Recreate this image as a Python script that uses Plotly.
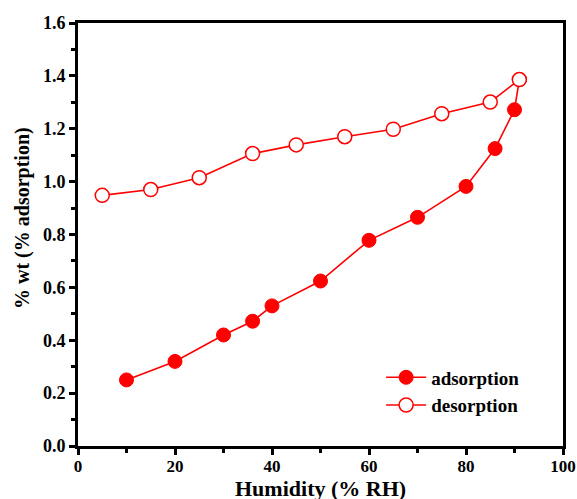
import plotly.graph_objects as go

# Water uptake isotherm: adsorption and desorption branches
ads_rh = [10, 20, 30, 36, 40, 50, 60, 70, 80, 86, 90, 91]
ads_wt = [0.25, 0.32, 0.42, 0.472, 0.53, 0.624, 0.778, 0.865, 0.982, 1.125, 1.272, 1.386]

des_rh = [5, 15, 25, 36, 45, 55, 65, 75, 85, 91]
des_wt = [0.948, 0.970, 1.015, 1.106, 1.139, 1.170, 1.198, 1.257, 1.301, 1.386]

x_ticks = [0, 20, 40, 60, 80, 100]
y_ticks = [0.0, 0.2, 0.4, 0.6, 0.8, 1.0, 1.2, 1.4, 1.6]

x_title = "Humidity (% RH)"
y_title = "% wt (% adsorption)"

RED = "#ff0000"
FONT = "Liberation Serif"

fig = go.Figure()
fig.add_trace(go.Scatter(
    x=ads_rh, y=ads_wt, mode="lines+markers", name="adsorption",
    line=dict(color=RED, width=1.6),
    marker=dict(symbol="circle", size=14, color=RED, line=dict(color=RED, width=1)),
))
fig.add_trace(go.Scatter(
    x=des_rh, y=des_wt, mode="lines+markers", name="desorption",
    line=dict(color=RED, width=1.6),
    marker=dict(symbol="circle", size=14, color="white", line=dict(color=RED, width=1.5)),
))

axis_common = dict(
    showgrid=False, zeroline=False, showline=True, linecolor="black", linewidth=3,
    mirror=True, ticks="outside", tickwidth=3, ticklen=6, tickcolor="black",
    automargin=False,
)

fig.update_xaxes(
    range=[0, 100], tickvals=x_ticks, ticktext=[str(v) for v in x_ticks],
    minor=dict(ticks="outside", dtick=10, ticklen=4, tickwidth=3, tickcolor="black"),
    tickfont=dict(family=FONT, size=17, color="black", weight="bold"),
    ticklabelstandoff=-3,
    **axis_common,
)
fig.update_yaxes(
    range=[0, 1.6], tickvals=y_ticks, ticktext=[f"{v:.1f}" for v in y_ticks],
    minor=dict(ticks="outside", dtick=0.1, ticklen=4, tickwidth=3, tickcolor="black"),
    tickfont=dict(family=FONT, size=18, color="black", weight="bold"),
    **axis_common,
)

# Axis titles placed as annotations so they sit tight against the tick labels
fig.add_annotation(
    text=x_title, xref="paper", yref="paper", x=0.5, y=-0.1,
    xanchor="center", yanchor="middle", showarrow=False,
    font=dict(family=FONT, size=22, color="black", weight="bold"),
)
fig.add_annotation(
    text=y_title, xref="paper", yref="paper", x=-0.1155, y=0.539,
    xanchor="center", yanchor="middle", textangle=-90, showarrow=False,
    font=dict(family=FONT, size=20, color="black", weight="bold"),
)

fig.update_layout(
    width=577, height=499,
    margin=dict(l=78, r=14, t=23, b=53),
    paper_bgcolor="white", plot_bgcolor="white",
    showlegend=True,
    legend=dict(
        x=0.625, y=0.207, xanchor="left", yanchor="top",
        bgcolor="rgba(0,0,0,0)", borderwidth=0,
        font=dict(family=FONT, size=19, color="black", weight="bold"),
        itemwidth=40, tracegroupgap=0,
    ),
)

fig.write_html("out.html")
